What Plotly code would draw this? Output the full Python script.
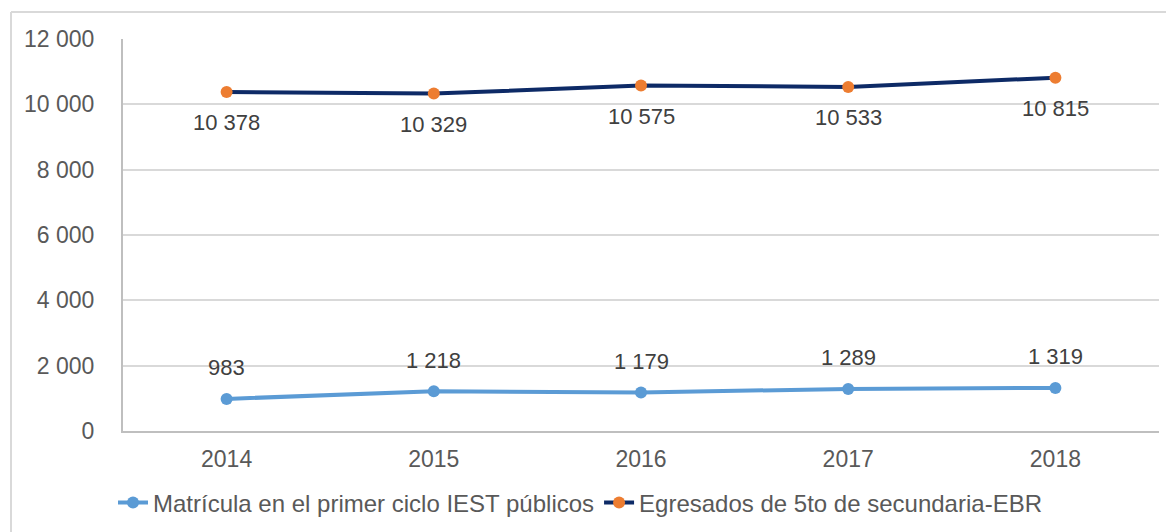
import plotly.graph_objects as go

years = ["2014", "2015", "2016", "2017", "2018"]
matricula = [983, 1218, 1179, 1289, 1319]
egresados = [10378, 10329, 10575, 10533, 10815]
y_ticks = [0, 2000, 4000, 6000, 8000, 10000, 12000]
y_tick_labels = ["0", "2 000", "4 000", "6 000", "8 000", "10 000", "12 000"]

def fmt(v):
    return f"{v:,}".replace(",", " ")

# page body has an 8px margin, so figure coordinates are shifted by 8px
OFF = 8
W, H = 1174 - OFF, 532 - OFF
L, R, T, B = 123 - OFF, 15, 39 - OFF, 101
FONT = "Liberation Sans, Arial"

fig = go.Figure()
fig.add_trace(go.Scatter(
    x=years, y=matricula, mode="lines+markers",
    name="Matrícula en el primer ciclo IEST públicos",
    line=dict(color="#5B9BD5", width=4),
    marker=dict(color="#5B9BD5", size=12),
    cliponaxis=False,
))
fig.add_trace(go.Scatter(
    x=years, y=egresados, mode="lines+markers",
    name="Egresados de 5to de secundaria-EBR",
    line=dict(color="#0D2A66", width=4),
    marker=dict(color="#ED7D31", size=12),
    cliponaxis=False,
))

for i, yv in enumerate(matricula):
    fig.add_annotation(x=i, y=yv, text=fmt(yv), showarrow=False, yshift=31,
                       font=dict(family=FONT, size=22, color="#404040"))
for i, yv in enumerate(egresados):
    fig.add_annotation(x=i, y=yv, text=fmt(yv), showarrow=False, yshift=-31,
                       font=dict(family=FONT, size=22, color="#404040"))

ph = H - T - B
pw = W - L - R
bx, by = 11 - OFF, 12 - OFF
fig.add_shape(type="line", xref="paper", yref="paper",
              x0=(bx - L) / pw, x1=(W + 5 - L) / pw,
              y0=(H - B - by) / ph, y1=(H - B - by) / ph,
              line=dict(color="#D9D9D9", width=2))
fig.add_shape(type="line", xref="paper", yref="paper",
              x0=(bx - L) / pw, x1=(bx - L) / pw,
              y0=(H - B - by) / ph, y1=(H - B - H - 10) / ph,
              line=dict(color="#D9D9D9", width=2))

fig.update_layout(
    width=W, height=H,
    margin=dict(l=L, r=R, t=T, b=B, autoexpand=False),
    paper_bgcolor="white", plot_bgcolor="white",
    font=dict(family=FONT, size=22, color="#595959"),
    showlegend=True,
    legend=dict(orientation="h", x=(580 - 123) / pw, xanchor="center",
                y=(H - B - (503 - OFF)) / ph, yanchor="middle",
                font=dict(size=24, color="#595959"),
                traceorder="normal"),
    xaxis=dict(type="category", range=[-0.5, 4.5], showgrid=False,
               showline=True, linecolor="#BFBFBF", linewidth=2,
               ticks="", tickfont=dict(size=23, color="#595959"), ticklabelstandoff=6),
    yaxis=dict(range=[0, 12000], tickvals=y_ticks, ticktext=y_tick_labels,
               showgrid=True, gridcolor="#D9D9D9", gridwidth=1.5,
               showline=True, linecolor="#BFBFBF", linewidth=2,
               zeroline=False, ticks="", tickfont=dict(size=23, color="#595959"),
               ticklabelstandoff=22),
)

fig.write_html("out.html")
